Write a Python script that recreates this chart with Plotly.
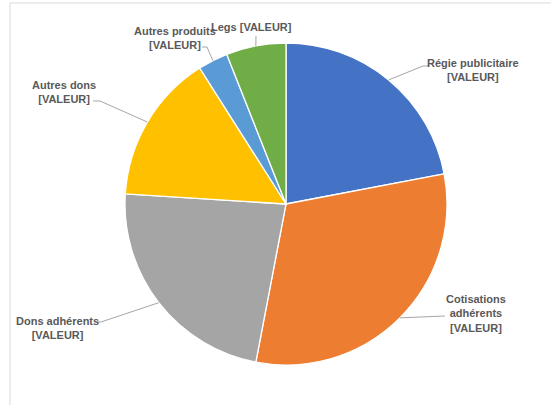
import math
import plotly.graph_objects as go

# ---- data ----
labels = ["Régie publicitaire", "Cotisations adhérents", "Dons adhérents",
          "Autres dons", "Autres produits", "Legs"]
values = [22, 31, 23, 15, 3, 6]
colors = ["#4472C4", "#ED7D31", "#A5A5A5", "#FFC000", "#5B9BD5", "#70AD47"]
label_texts = ["Régie publicitaire<br>[VALEUR]",
               "Cotisations<br>adhérents<br>[VALEUR]",
               "Dons adhérents<br>[VALEUR]",
               "Autres dons<br>[VALEUR]",
               "Autres produits<br>[VALEUR]",
               "Legs [VALEUR]"]

# ---- layout (pixels) ----
W, H = 551, 405
CX, CY, R = 286, 204, 161
# text centres
text_pos = [(473, 70), (476, 313), (57, 328), (64, 92), (175, 38), (251, 27)]
# leader elbows (from slice edge -> elbow -> end)
elbows = [[(423, 66), (428, 66)],
          [(445, 316)],
          [(101, 322), (97, 322)],
          [(100, 101), (93, 101)],
          [(207, 47), (202, 47)],
          [(256, 36)]]

def px(x):
    return x / W

def py(y):
    return 1 - y / H

fig = go.Figure(go.Pie(
    labels=labels, values=values, sort=False, direction="clockwise",
    rotation=0, marker=dict(colors=colors, line=dict(color="white", width=1.3)),
    textinfo="none", hoverinfo="label+value", showlegend=False,
    domain=dict(x=[px(CX - R), px(CX + R)], y=[py(CY + R), py(CY - R)]),
))

total = sum(values)
shapes = [dict(type="rect", xref="paper", yref="paper",
               x0=px(10), x1=1.2, y0=-0.2, y1=py(3),
               line=dict(color="#D9D9D9", width=1), fillcolor="rgba(0,0,0,0)")]
annotations = []
cum = 0
for i, v in enumerate(values):
    mid = (cum + v / 2) / total * 2 * math.pi
    cum += v
    ex = CX + R * math.sin(mid)
    ey = CY - R * math.cos(mid)
    pts = [(ex, ey)] + elbows[i]
    path = "M " + " L ".join(f"{px(x):.5f},{py(y):.5f}" for x, y in pts)
    shapes.append(dict(type="path", xref="paper", yref="paper", path=path,
                       line=dict(color="#A6A6A6", width=1)))
    tx, ty = text_pos[i]
    annotations.append(dict(x=px(tx), y=py(ty), xref="paper", yref="paper",
                            text=label_texts[i], showarrow=False,
                            xanchor="center", yanchor="middle", align="center",
                            font=dict(family="Liberation Sans", size=11,
                                      color="#595959", weight="bold")))

fig.update_layout(width=W, height=H, margin=dict(l=0, r=0, t=0, b=0),
                  paper_bgcolor="white", plot_bgcolor="white",
                  shapes=shapes, annotations=annotations)
fig.write_html("out.html", config={"displayModeBar": False},
               post_script="document.body.style.margin='0';document.body.style.overflow='hidden';")
